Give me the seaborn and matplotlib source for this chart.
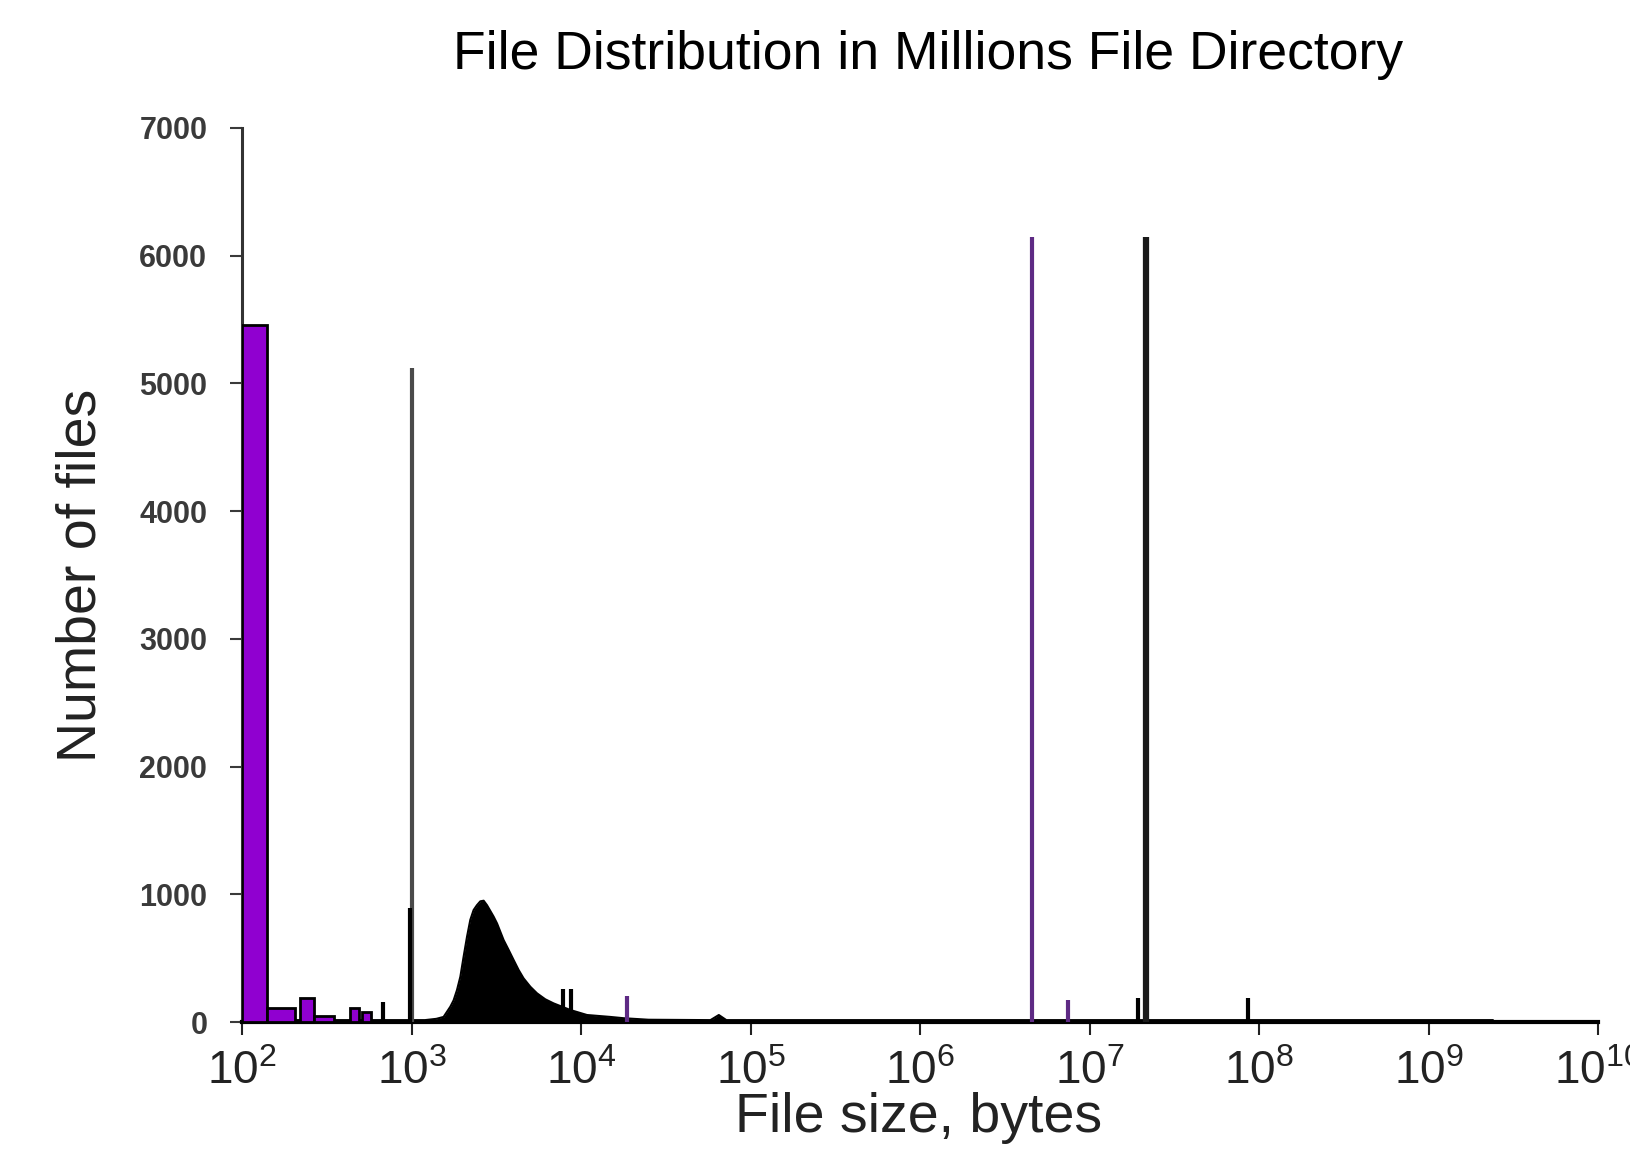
import numpy as np
import matplotlib
matplotlib.use("Agg")
import matplotlib.pyplot as plt
import seaborn as sns
from matplotlib.ticker import NullLocator

# purple histogram bars (left edge, right edge in bytes, count)
purple_left = [100, 140, 221, 264, 435, 510]
purple_right = [140, 206, 264, 347, 488, 580]
purple_count = [5460, 112, 185, 47, 107, 81]

# black size distribution (smooth hump + low baseline)
black_size = [100, 1200, 1400, 1545, 1618, 1694, 1771, 1854, 1941, 2028, 2125,
              2222, 2324, 2432, 2545, 2663, 2786, 3050, 3194, 3492, 3741,
              4000, 4285, 4581, 5023, 5495, 6152, 6886, 8650, 10840, 14880,
              17780, 25000, 58000, 65000, 72000, 2.4e9]
black_count = [15, 15, 25, 40, 80, 120, 170, 250, 355, 510, 668,
               800, 877, 915, 945, 950, 915, 825, 772, 642, 564,
               486, 407, 342, 276, 225, 178, 146, 94, 55, 40,
               30, 18, 15, 55, 15, 15]

# narrow spikes
black_spike_size = [680, 985, 7800, 8700, 1.92e7, 8.6e7]
black_spike_count = [159, 890, 260, 260, 188, 190]
purple_spike_size = [18600, 4.6e6, 7.5e6]
purple_spike_count = [204, 6150, 172]
gray_spike_size = [1000]
gray_spike_count = [5120]
tall_spike_size = [2.14e7]
tall_spike_count = [6150]

x_decades = list(range(2, 11))
y_ticks = [0, 1000, 2000, 3000, 4000, 5000, 6000, 7000]

sns.set_style("ticks")
plt.rcParams["font.family"] = ["Liberation Sans", "DejaVu Sans"]
plt.rcParams["mathtext.default"] = "regular"

fig = plt.figure(figsize=(16.31, 11.49), dpi=100)
ax = fig.add_axes([0.1484, 0.1105, 0.8314, 0.7781])
ax.set_xscale("log")

# hump and baseline
ax.fill_between(black_size, 0, black_count, color="black", lw=0, zorder=2)
sns.lineplot(x=black_size, y=black_count, color="black", lw=1.5, ax=ax, zorder=3)

# purple bars
widths = [r - l for l, r in zip(purple_left, purple_right)]
ax.bar(purple_left, purple_count, width=widths, align="edge",
       color="#9000d0", edgecolor="black", linewidth=2, zorder=3)

ax.vlines(black_spike_size, 0, black_spike_count, color="black", lw=3, zorder=4)
ax.vlines(gray_spike_size, 0, gray_spike_count, color="#4a4a4a", lw=3, zorder=3)
ax.vlines(purple_spike_size, 0, purple_spike_count, color="#5e2a84", lw=3, zorder=4)
ax.vlines(tall_spike_size, 0, tall_spike_count, color="#1a1a1a", lw=4.5, zorder=4)

ax.set_xlim(1e2, 1e10)
ax.set_ylim(0, 7000)
ax.set_xticks([10.0 ** k for k in x_decades])
ax.set_xticklabels([rf"$\mathregular{{10^{{{k}}}}}$" for k in x_decades])
ax.xaxis.set_minor_locator(NullLocator())
ax.set_yticks(y_ticks)
ax.set_yticklabels([str(v) for v in y_ticks], fontweight="bold")

ax.tick_params(axis="x", length=9, width=1.5, pad=11, labelsize=33, colors="#222222")
ax.tick_params(axis="y", length=9, width=1.5, pad=16, labelsize=22, colors="#3a3a3a")
ax.set_xlabel("")
ax.set_ylabel("")

sns.despine(ax=ax)
ax.spines["left"].set_linewidth(2.2)
ax.spines["left"].set_color("#333333")
ax.spines["bottom"].set_linewidth(3)
ax.spines["bottom"].set_color("black")

fig.text(0.569, 0.952, "File Distribution in Millions File Directory",
         ha="center", va="center", fontsize=38.5, color="black")
fig.text(0.0497, 0.4996, "Number of files", rotation=90,
         ha="center", va="center", fontsize=40, color="#222222")
fig.text(0.563, 0.027, "File size, bytes",
         ha="center", va="center", fontsize=40, color="#222222")

fig.savefig("out.png", dpi=100, facecolor="white")
